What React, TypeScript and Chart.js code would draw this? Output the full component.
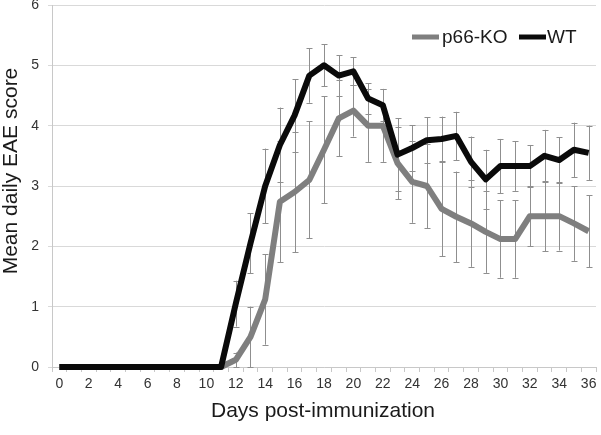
import React, { useEffect, useRef } from "react";
import { Chart, registerables } from "chart.js";

Chart.register(...registerables);

const days = ["0","1","2","3","4","5","6","7","8","9","10","11","12","13","14","15","16","17","18","19","20","21","22","23","24","25","26","27","28","29","30","31","32","33","34","35","36"];

const koMean = [0,0,0,0,0,0,0,0,0,0,0,0,0.12,0.5,1.12,2.74,2.9,3.1,3.6,4.12,4.25,4.0,4.0,3.38,3.07,3.0,2.62,2.49,2.38,2.24,2.12,2.12,2.5,2.5,2.5,2.38,2.25];
const koErr = [0,0,0,0,0,0,0,0,0,0,0,0,0.12,0.5,0.75,1.0,1.0,0.97,0.89,0.63,0.43,0.6,0.6,0.6,0.68,0.7,0.78,0.75,0.72,0.68,0.64,0.64,0.5,0.58,0.57,0.62,0.6];

const wtMean = [0,0,0,0,0,0,0,0,0,0,0,0,1.05,2.05,3.0,3.68,4.17,4.83,5.0,4.83,4.9,4.45,4.34,3.52,3.63,3.76,3.78,3.83,3.4,3.11,3.33,3.33,3.33,3.5,3.43,3.6,3.55];
const wtErr = [0,0,0,0,0,0,0,0,0,0,0,0,0.38,0.5,0.62,0.62,0.6,0.45,0.35,0.34,0.23,0.25,0.27,0.6,0.38,0.38,0.37,0.4,0.42,0.49,0.45,0.41,0.35,0.43,0.38,0.45,0.45];

const seriesNames = ["p66-KO", "WT"];
const seriesColors = ["#7f7f7f", "#0a0a0a"];
const yTicks = [0, 1, 2, 3, 4, 5, 6];

const FONT = "'Liberation Sans', Arial, sans-serif";

const errorBarPlugin = {
  id: "errorBars",
  beforeDatasetsDraw(chart: any) {
    const ctx = chart.ctx;
    const y = chart.scales.y;
    const x = chart.scales.x;
    const errs = [koErr, wtErr];
    const means = [koMean, wtMean];
    ctx.save();
    ctx.strokeStyle = "#8f8f8f";
    ctx.lineWidth = 1;
    for (let s = 0; s < 2; s++) {
      for (let i = 0; i < days.length; i++) {
        const e = errs[s][i];
        if (!e) continue;
        const px = Math.round(x.getPixelForValue(i)) + 0.5;
        const top = y.getPixelForValue(means[s][i] + e);
        const bot = y.getPixelForValue(means[s][i] - e);
        ctx.beginPath();
        ctx.moveTo(px, top);
        ctx.lineTo(px, bot);
        ctx.moveTo(px - 3, Math.round(top) + 0.5);
        ctx.lineTo(px + 3, Math.round(top) + 0.5);
        ctx.moveTo(px - 3, Math.round(bot) + 0.5);
        ctx.lineTo(px + 3, Math.round(bot) + 0.5);
        ctx.stroke();
      }
    }
    ctx.restore();
  },
};

const textPlugin = {
  id: "texts",
  afterDraw(chart: any) {
    const ctx = chart.ctx;
    ctx.save();
    // legend
    ctx.font = `19px ${FONT}`;
    ctx.textBaseline = "middle";
    ctx.textAlign = "left";
    const ly = 37;
    ctx.lineWidth = 5;
    ctx.strokeStyle = seriesColors[0];
    ctx.beginPath();
    ctx.moveTo(412, ly);
    ctx.lineTo(439, ly);
    ctx.stroke();
    ctx.fillStyle = "#1a1a1a";
    ctx.fillText(seriesNames[0], 442, ly + 1);
    ctx.strokeStyle = seriesColors[1];
    ctx.beginPath();
    ctx.moveTo(519, ly);
    ctx.lineTo(546, ly);
    ctx.stroke();
    ctx.fillText(seriesNames[1], 547, ly + 1);
    // axis titles
    ctx.font = `21px ${FONT}`;
    ctx.textAlign = "center";
    ctx.fillText("Days post-immunization", 323, 411);
    ctx.translate(11, 171);
    ctx.rotate(-Math.PI / 2);
    ctx.fillText("Mean daily EAE score", 0, 0);
    ctx.restore();
  },
};

export default function App() {
  const ref = useRef<HTMLCanvasElement | null>(null);
  useEffect(() => {
    if (!ref.current) return;
    const chart = new Chart(ref.current, {
      type: "line",
      data: {
        labels: days,
        datasets: [
          {
            label: seriesNames[0],
            data: koMean,
            borderColor: seriesColors[0],
            backgroundColor: seriesColors[0],
            borderWidth: 6,
            pointRadius: 0,
            tension: 0,
            clip: 8,
            order: 1,
            borderJoinStyle: "round",
            borderCapStyle: "butt",
          },
          {
            label: seriesNames[1],
            data: wtMean,
            borderColor: seriesColors[1],
            backgroundColor: seriesColors[1],
            borderWidth: 6,
            pointRadius: 0,
            tension: 0,
            clip: 8,
            order: 0,
            borderJoinStyle: "round",
            borderCapStyle: "butt",
          },
        ],
      },
      options: {
        animation: false,
        responsive: false,
        maintainAspectRatio: false,
        layout: { padding: { top: 5, right: 5, left: 0, bottom: 0 } },
        plugins: {
          legend: { display: false },
          tooltip: { enabled: false },
        },
        scales: {
          x: {
            type: "category",
            offset: true,
            grid: {
              display: true,
              drawOnChartArea: false,
              offset: true,
              tickLength: 5,
              color: "#c8c8c8",
            },
            border: { display: true, color: "#c8c8c8" },
            ticks: {
              autoSkip: false,
              maxRotation: 0,
              padding: 4,
              color: "#333333",
              font: { family: FONT, size: 14 },
              callback: (_v: any, i: number) => (i % 2 === 0 ? days[i] : ""),
            },
            afterFit: (s: any) => {
              s.height = 68;
              s.paddingLeft = 0;
              s.paddingRight = 0;
            },
          },
          y: {
            min: 0,
            max: 6,
            afterBuildTicks: (s: any) => {
              s.ticks = yTicks.map((v) => ({ value: v }));
            },
            grid: {
              color: "#d9d9d9",
              tickLength: 4,
              lineWidth: 1,
            },
            border: { display: true, color: "#c8c8c8" },
            ticks: {
              padding: 9,
              color: "#333333",
              font: { family: FONT, size: 14 },
            },
            afterFit: (s: any) => {
              s.width = 52;
              s.paddingTop = 0;
              s.paddingBottom = 0;
            },
          },
        },
      },
      plugins: [errorBarPlugin, textPlugin],
    });
    return () => chart.destroy();
  }, []);
  return (
    <div style={{ position: "fixed", left: 0, top: 0, width: 601, height: 435, background: "#fff" }}>
      <canvas ref={ref} width={601} height={435} style={{ width: 601, height: 435 }} />
    </div>
  );
}
